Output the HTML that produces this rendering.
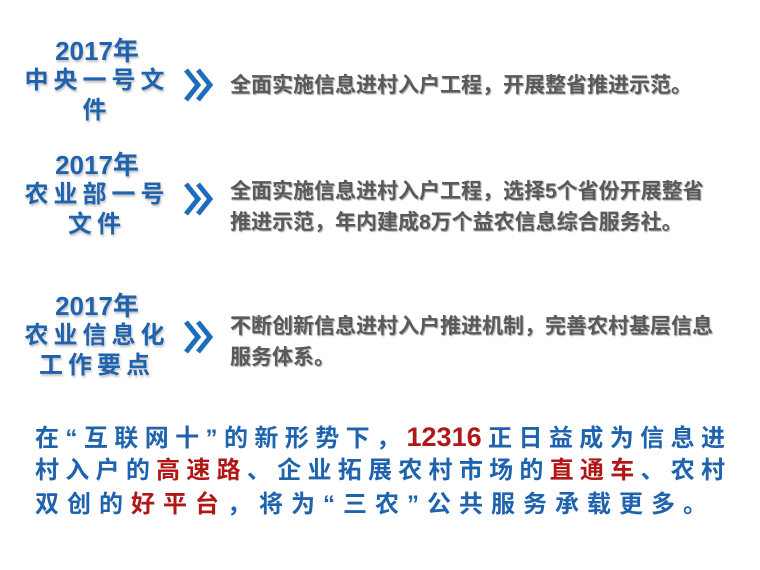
<!DOCTYPE html>
<html><head><meta charset="utf-8">
<style>
body{margin:0;width:760px;height:570px;background:#fff;position:relative;overflow:hidden;font-family:"Liberation Sans","Noto Sans CJK SC",sans-serif}
.lab{position:absolute;width:180px;left:7px;text-align:center;color:#1f63ae;font-family:"Liberation Sans","Noto Sans CJK SC",sans-serif;font-weight:bold;text-shadow:1px 2px 2px rgba(0,0,0,.25)}
.lab div{height:30px;line-height:30px;font-size:24px;letter-spacing:5px}
.lab .y{font-size:26px;letter-spacing:0}
.t{position:absolute;left:230px;color:#5a5a5a;font-weight:bold;font-size:21px;line-height:31px;text-shadow:1px 1px 1px rgba(0,0,0,.35);white-space:nowrap}
svg.c{position:absolute;width:30px;height:34px}
.p{position:absolute;left:35px;width:690px;font-family:"Liberation Sans","Noto Sans CJK SC",sans-serif;font-weight:bold;font-size:24px;color:#1f63ae}
.p div{height:34px;line-height:34px;text-align:justify;text-align-last:justify}
.r{color:#b01818}
</style></head><body>
<div class="lab" style="top:36px"><div class="y">2017年</div><div>中央一号文</div><div>件</div></div>
<svg class="c" style="left:184px;top:68px" viewBox="0 0 30 34"><path d="M2 2 L14 17 L2 32 M14 2 L26 17 L14 32" stroke="#1e6cbc" stroke-width="5" fill="none"/></svg>
<div class="t" style="top:70px">全面实施信息进村入户工程，开展整省推进示范。</div>

<div class="lab" style="top:150px"><div class="y">2017年</div><div>农业部一号</div><div>文件</div></div>
<svg class="c" style="left:184px;top:182px" viewBox="0 0 30 34"><path d="M2 2 L14 17 L2 32 M14 2 L26 17 L14 32" stroke="#1e6cbc" stroke-width="5" fill="none"/></svg>
<div class="t" style="top:176px">全面实施信息进村入户工程，选择5个省份开展整省<br>推进示范，年内建成8万个益农信息综合服务社。</div>

<div class="lab" style="top:291px"><div class="y">2017年</div><div>农业信息化</div><div>工作要点</div></div>
<svg class="c" style="left:184px;top:320px" viewBox="0 0 30 34"><path d="M2 2 L14 17 L2 32 M14 2 L26 17 L14 32" stroke="#1e6cbc" stroke-width="5" fill="none"/></svg>
<div class="t" style="top:311px">不断创新信息进村入户推进机制，完善农村基层信息<br>服务体系。</div>

<div class="p" style="top:420px">
<div>在“互联网十”的新形势下，<span class="r" style="font-size:27px">12316</span>正日益成为信息进</div>
<div>村入户的<span class="r">高速路</span>、企业拓展农村市场的<span class="r">直通车</span>、农村</div>
<div style="text-align-last:left;letter-spacing:8px">双创的<span class="r">好平台</span>，将为“三农”公共服务承载更多。</div>
</div>
</body></html>
